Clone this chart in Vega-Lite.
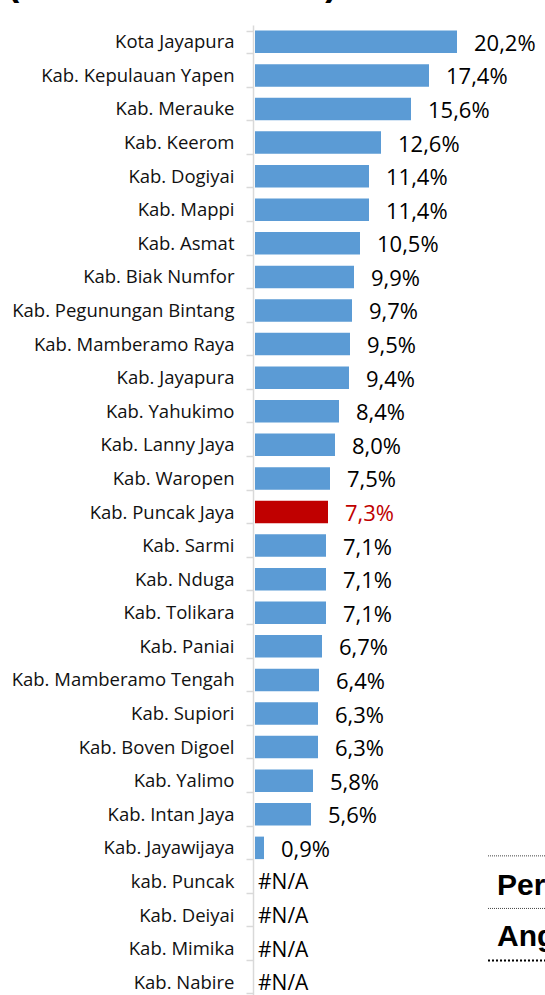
{
  "$schema": "https://vega.github.io/schema/vega-lite/v6.json",
  "autosize": "none",
  "width": 292,
  "height": 974,
  "padding": {"left": 253, "top": 25, "right": 0, "bottom": 0},
  "background": "white",
  "title": {"text": "(dalam Persentase)", "font": "Liberation Sans", "fontSize": 36, "fontWeight": "bold", "anchor": "start", "frame": "bounds", "baseline": "alphabetic", "offset": -15, "dx": -4, "color": "#000"},
  "config": {"view": {"stroke": null}},
  "data": {"values": [
    {"name": "Kota Jayapura", "value": 20.2, "label": "20,2%"},
    {"name": "Kab. Kepulauan Yapen", "value": 17.4, "label": "17,4%"},
    {"name": "Kab. Merauke", "value": 15.6, "label": "15,6%"},
    {"name": "Kab. Keerom", "value": 12.6, "label": "12,6%"},
    {"name": "Kab. Dogiyai", "value": 11.4, "label": "11,4%"},
    {"name": "Kab. Mappi", "value": 11.4, "label": "11,4%"},
    {"name": "Kab. Asmat", "value": 10.5, "label": "10,5%"},
    {"name": "Kab. Biak Numfor", "value": 9.9, "label": "9,9%"},
    {"name": "Kab. Pegunungan Bintang", "value": 9.7, "label": "9,7%"},
    {"name": "Kab. Mamberamo Raya", "value": 9.5, "label": "9,5%"},
    {"name": "Kab. Jayapura", "value": 9.4, "label": "9,4%"},
    {"name": "Kab. Yahukimo", "value": 8.4, "label": "8,4%"},
    {"name": "Kab. Lanny Jaya", "value": 8.0, "label": "8,0%"},
    {"name": "Kab. Waropen", "value": 7.5, "label": "7,5%"},
    {"name": "Kab. Puncak Jaya", "value": 7.3, "label": "7,3%"},
    {"name": "Kab. Sarmi", "value": 7.1, "label": "7,1%"},
    {"name": "Kab. Nduga", "value": 7.1, "label": "7,1%"},
    {"name": "Kab. Tolikara", "value": 7.1, "label": "7,1%"},
    {"name": "Kab. Paniai", "value": 6.7, "label": "6,7%"},
    {"name": "Kab. Mamberamo Tengah", "value": 6.4, "label": "6,4%"},
    {"name": "Kab. Supiori", "value": 6.3, "label": "6,3%"},
    {"name": "Kab. Boven Digoel", "value": 6.3, "label": "6,3%"},
    {"name": "Kab. Yalimo", "value": 5.8, "label": "5,8%"},
    {"name": "Kab. Intan Jaya", "value": 5.6, "label": "5,6%"},
    {"name": "Kab. Jayawijaya", "value": 0.9, "label": "0,9%"},
    {"name": "kab. Puncak", "value": null, "label": "#N/A"},
    {"name": "Kab. Deiyai", "value": null, "label": "#N/A"},
    {"name": "Kab. Mimika", "value": null, "label": "#N/A"},
    {"name": "Kab. Nabire", "value": null, "label": "#N/A"}
  ]},
  "encoding": {
    "y": {
      "field": "name", "type": "nominal", "title": null,
      "scale": {
        "domain": ["Kota Jayapura", "Kab. Kepulauan Yapen", "Kab. Merauke", "Kab. Keerom", "Kab. Dogiyai", "Kab. Mappi", "Kab. Asmat", "Kab. Biak Numfor", "Kab. Pegunungan Bintang", "Kab. Mamberamo Raya", "Kab. Jayapura", "Kab. Yahukimo", "Kab. Lanny Jaya", "Kab. Waropen", "Kab. Puncak Jaya", "Kab. Sarmi", "Kab. Nduga", "Kab. Tolikara", "Kab. Paniai", "Kab. Mamberamo Tengah", "Kab. Supiori", "Kab. Boven Digoel", "Kab. Yalimo", "Kab. Intan Jaya", "Kab. Jayawijaya", "kab. Puncak", "Kab. Deiyai", "Kab. Mimika", "Kab. Nabire"],
        "paddingInner": 0.33, "paddingOuter": 0.165
      },
      "axis": {
        "domainColor": "#d9d9d9", "domainWidth": 1.5, "tickColor": "#d9d9d9", "tickWidth": 1.5, "tickSize": 7, "tickBand": "extent",
        "labelFont": "Open Sans", "labelFontSize": 18.5, "labelColor": "#111", "labelPadding": 12, "labelLimit": 400, "grid": false
      }
    }
  },
  "layer": [
    {
      "mark": {"type": "bar"},
      "encoding": {
        "x": {"field": "value", "type": "quantitative", "scale": {"domain": [-0.2, 29], "nice": false, "zero": false}, "axis": null},
        "color": {"condition": {"test": "datum.name === 'Kab. Puncak Jaya'", "value": "#C00000"}, "value": "#5B9BD5"}
      }
    },
    {
      "transform": [{"filter": "datum.value != null"}],
      "mark": {"type": "text", "align": "left", "baseline": "middle", "dx": 17, "dy": 2, "font": "Open Sans", "fontSize": 22},
      "encoding": {
        "x": {"field": "value", "type": "quantitative"},
        "text": {"field": "label"},
        "color": {"condition": {"test": "datum.name === 'Kab. Puncak Jaya'", "value": "#C00000"}, "value": "#000"}
      }
    },
    {
      "transform": [{"filter": "datum.value == null"}],
      "mark": {"type": "text", "align": "left", "baseline": "middle", "dx": 3, "dy": 2, "font": "Open Sans", "fontSize": 21, "color": "#000"},
      "encoding": {
        "x": {"datum": 0},
        "text": {"field": "label"}
      }
    },
    {
      "data": {"values": [{"name": "kab. Puncak", "t": "Per"}]},
      "mark": {"type": "text", "align": "left", "baseline": "middle", "dy": 5, "font": "Liberation Sans", "fontWeight": "bold", "fontSize": 30, "color": "#000"},
      "encoding": {"x": {"datum": 24.2}, "y": {"field": "name", "type": "nominal"}, "text": {"field": "t"}}
    },
    {
      "data": {"values": [{"name": "Kab. Deiyai", "t": "Ang"}]},
      "mark": {"type": "text", "align": "left", "baseline": "middle", "dy": 22, "font": "Liberation Sans", "fontWeight": "bold", "fontSize": 30, "color": "#000"},
      "encoding": {"x": {"datum": 24.2}, "y": {"field": "name", "type": "nominal"}, "text": {"field": "t"}}
    },
    {
      "data": {"values": [{"name": "Kab. Jayawijaya"}]},
      "mark": {"type": "rule", "yOffset": 8, "strokeDash": [1, 1], "strokeWidth": 1, "color": "#444"},
      "encoding": {"x": {"datum": 23.3}, "x2": {"datum": 29}, "y": {"field": "name", "type": "nominal"}}
    },
    {
      "data": {"values": [{"name": "kab. Puncak"}]},
      "mark": {"type": "rule", "yOffset": 27, "strokeDash": [1, 1], "strokeWidth": 1, "color": "#444"},
      "encoding": {"x": {"datum": 23.3}, "x2": {"datum": 29}, "y": {"field": "name", "type": "nominal"}}
    },
    {
      "data": {"values": [{"name": "Kab. Mimika"}]},
      "mark": {"type": "rule", "yOffset": 12, "strokeDash": [2, 2], "strokeWidth": 2, "color": "#000"},
      "encoding": {"x": {"datum": 23.3}, "x2": {"datum": 29}, "y": {"field": "name", "type": "nominal"}}
    }
  ]
}
